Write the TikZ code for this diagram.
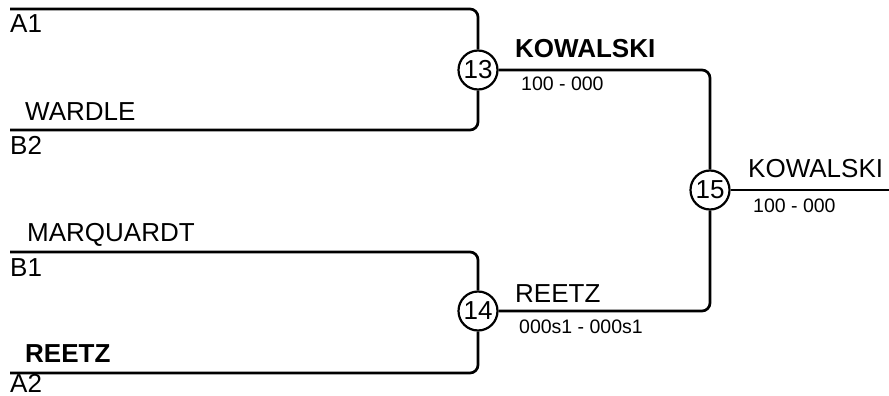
\documentclass[tikz,border=0pt]{standalone}
\usepackage{fontspec}
\setmainfont{Liberation Sans}
\begin{document}
\begin{tikzpicture}[x=1pt,y=-1pt,
  bracket/.style={line width=2.7pt,rounded corners=8pt},
  matchnode/.style={circle,draw,line width=2.2pt,fill=white,minimum size=39pt,inner sep=0pt,font=\fontsize{26}{30}\selectfont},
  player/.style={anchor=base west,inner sep=0pt,font=\fontsize{26}{30}\selectfont},
  winner/.style={anchor=base west,inner sep=0pt,font=\fontsize{26}{30}\selectfont\bfseries},
  score/.style={anchor=base west,inner sep=0pt,font=\fontsize{19.5}{23}\selectfont}]
\useasboundingbox (0,0) rectangle (889,396);
% matches
\node[matchnode] (n13) at (478,70) {13};
\node[matchnode] (n14) at (478,311) {14};
\node[matchnode] (n15) at (710,190) {15};
% free ends
\coordinate (a1) at (10,9);
\coordinate (b2) at (10,130);
\coordinate (b1) at (10,252);
\coordinate (a2) at (10,373);
\coordinate (out) at (889,190);
% connectors
\draw[bracket] (a1) -| (n13);
\draw[bracket] (b2) -| (n13);
\draw[bracket] (b1) -| (n14);
\draw[bracket] (a2) -| (n14);
\draw[bracket] (n13) -| (n15);
\draw[bracket] (n14) -| (n15);
\draw[bracket] (n15) -- (out);
% labels
\node[player] (la1) at (10,33) {A1};
\node[player] (lwar) at (25,120) {WARDLE};
\node[player] (lb2) at (10,154) {B2};
\node[player] (lmar) at (27,241) {MARQUARDT};
\node[player] (lb1) at (10,276) {B1};
\node[winner] (lree) at (25,362) {REETZ};
\node[player] (la2) at (10,392) {A2};
\node[winner] (lkow) at (515,58) {KOWALSKI};
\node[score] (s13) at (521,91) {100 - 000};
\node[player] (lree2) at (515,302) {REETZ};
\node[score] (s14) at (519,333) {000s1 - 000s1};
\node[player] (lkow2) at (748,177) {KOWALSKI};
\node[score] (s15) at (753,212) {100 - 000};
\end{tikzpicture}
\end{document}
